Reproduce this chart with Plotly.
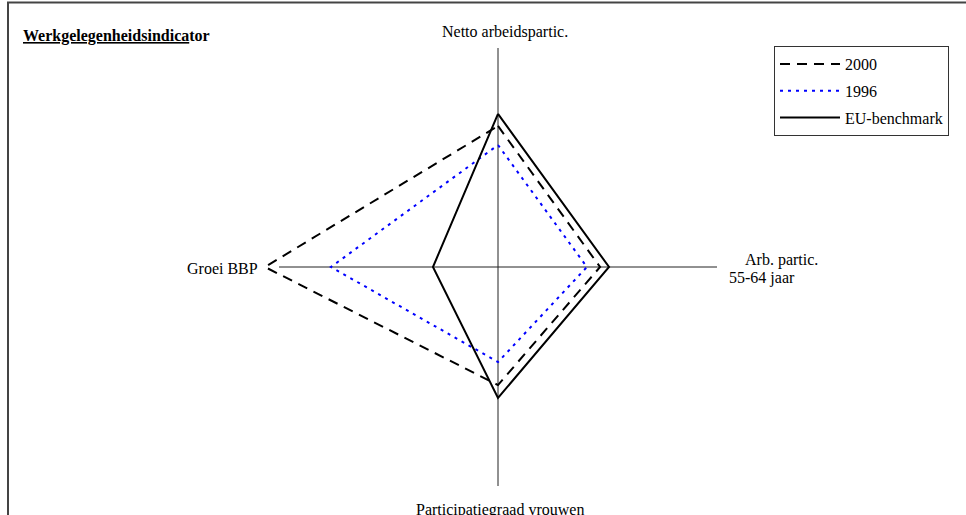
import plotly.graph_objects as go

# ---- data (index units: axis length = 100) ----
categories = ["Netto arbeidspartic.", "Arb. partic. 55-64 jaar", "Participatiegraad vrouwen", "Groei BBP"]
series_names = ["2000", "1996", "EU-benchmark"]
val_2000 = [64.4, 46.6, 53.9, 106.4]
val_1996 = [55.7, 40.6, 43.4, 76.3]
val_eu = [69.9, 50.7, 59.8, 29.7]
axis_max = 100
range_max = 110

W, H = 966, 515
cx, cy = 498, 267
r_px = 219 * range_max / axis_max

def closed(v):
    return list(v) + [v[0]]

theta = closed(categories)

fig = go.Figure()

# radar axes (cross)
fig.add_trace(go.Scatterpolar(
    r=[axis_max, 0, axis_max, None, axis_max, 0, axis_max],
    theta=[categories[0], categories[0], categories[2], None, categories[3], categories[3], categories[1]],
    mode="lines", line=dict(color="#222222", width=1), showlegend=False, hoverinfo="skip",
    connectgaps=False,
))

styles = {
    "2000": dict(color="black", width=2, dash="10px,7px"),
    "1996": dict(color="#0000ff", width=2, dash="3px,5px"),
    "EU-benchmark": dict(color="black", width=2, dash="solid"),
}
for name, vals in zip(series_names, [val_2000, val_1996, val_eu]):
    fig.add_trace(go.Scatterpolar(
        r=closed(vals), theta=theta, mode="lines", name=name,
        line=styles[name], legendgroup=name,
    ))

fig.update_layout(
    width=W, height=H,
    margin=dict(l=0, r=0, t=0, b=0),
    paper_bgcolor="white",
    font=dict(family="Liberation Serif, Times New Roman, serif", size=16, color="black"),
    polar=dict(
        domain=dict(x=[(cx - r_px) / W, (cx + r_px) / W],
                    y=[1 - (cy + r_px) / H, 1 - (cy - r_px) / H]),
        bgcolor="white",
        radialaxis=dict(visible=False, range=[0, range_max]),
        angularaxis=dict(visible=False, rotation=90, direction="clockwise",
                         categoryorder="array", categoryarray=categories),
    ),
    legend=dict(
        x=774 / W, y=1 - 46 / H, xanchor="left", yanchor="top",
        bordercolor="#333333", borderwidth=1, bgcolor="white",
        font=dict(size=16), tracegroupgap=3, itemwidth=60,
    ),
    showlegend=True,
)

# outer frame
fig.add_shape(type="rect", xref="paper", yref="paper",
              x0=8 / W, x1=1.05, y0=-0.05, y1=1 - 2.5 / H,
              line=dict(color="#444444", width=2), fillcolor="rgba(0,0,0,0)", layer="below")

def ann(text, x, y, xanchor="center", size=16):
    fig.add_annotation(text=text, x=x / W, y=1 - y / H, xref="paper", yref="paper",
                       xanchor=xanchor, yanchor="middle", showarrow=False,
                       font=dict(size=size))

ann("<b><u>Werkgelegenheidsindica</u>tor</b>", 21, 36, xanchor="left")
ann("Netto arbeidspartic.", 505, 32)
ann("Groei BBP", 260, 268, xanchor="right")
ann("Arb. partic.", 743, 260, xanchor="left")
ann("55-64 jaar", 727, 278, xanchor="left")
ann("Participatiegraad vrouwen", 500, 510)

fig.write_html("out.html", config={"displayModeBar": False},
               post_script="document.body.style.margin='0';document.body.style.overflow='hidden';")
